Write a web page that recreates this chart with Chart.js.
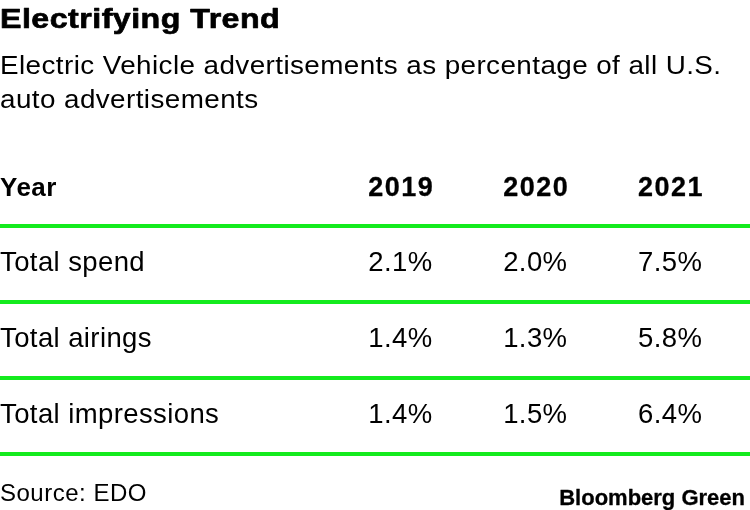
<!DOCTYPE html>
<html>
<head>
<meta charset="utf-8">
<script src="https://cdn.jsdelivr.net/npm/chart.js@4.4.1/dist/chart.umd.min.js"></script>
<style>
  html, body { margin: 0; padding: 0; background: #fff; }
  #wrap { width: 750px; height: 510px; }
</style>
</head>
<body>
<div id="wrap"><canvas id="tbl" width="750" height="510"></canvas></div>
<script>
'use strict';

// data
const title = 'Electrifying Trend';
const subtitle = ['Electric Vehicle advertisements as percentage of all U.S.', 'auto advertisements'];
const headerLabel = 'Year';
const years = [2019, 2020, 2021];
const metrics = ['Total spend', 'Total airings', 'Total impressions'];
const totalSpend = [2.1, 2.0, 7.5];
const totalAirings = [1.4, 1.3, 5.8];
const totalImpressions = [1.4, 1.5, 6.4];
const source = 'Source: EDO';
const brand = 'Bloomberg Green';

// style
const GREEN = '#14eb1e';
const INK = '#000';
const FONT = '"Liberation Sans", Arial, Helvetica, sans-serif';
const textStyles = {
  title:    { font: `bold 28px ${FONT}`, spacing: 0.4, sx: 1.15, stroke: 0.7 },
  subtitle: { font: `26.5px ${FONT}`, spacing: 0.4, sx: 1.05 },
  head:     { font: `bold 26px ${FONT}`, spacing: 0.5 },
  year:     { font: `bold 27px ${FONT}`, spacing: 1.5, stroke: 0.3 },
  cell:     { font: `27.5px ${FONT}`, spacing: 0.4 },
  source:   { font: `24px ${FONT}`, spacing: 0.5 },
  brand:    { font: `bold 22px ${FONT}`, spacing: 0, stroke: 0.3 },
};

// one point per table cell, placed by the scales
const rowValues = [totalSpend, totalAirings, totalImpressions];
const headerCells = years.map(yr => ({ x: yr, y: headerLabel, v: yr }));
const valueCells = [];
rowValues.forEach((vals, r) => vals.forEach((v, i) => valueCells.push({ x: years[i], y: metrics[r], v })));

function drawText(ctx, s, x, y, st, align) {
  ctx.save();
  ctx.font = st.font;
  ctx.fillStyle = INK;
  ctx.textBaseline = 'alphabetic';
  ctx.textAlign = align || 'left';
  if ('letterSpacing' in ctx) ctx.letterSpacing = (st.spacing || 0) + 'px';
  ctx.translate(x, y);
  ctx.scale(st.sx || 1, 1);
  ctx.fillText(s, 0, 0);
  if (st.stroke) { // a touch heavier, like the display weight
    ctx.strokeStyle = INK;
    ctx.lineWidth = st.stroke;
    ctx.lineJoin = 'round';
    ctx.strokeText(s, 0, 0);
  }
  ctx.restore();
}

const tablePlugin = {
  id: 'tablePlugin',
  afterDatasetsDraw(chart) {
    const { ctx, chartArea: a, scales: { y } } = chart;
    const band = y.getPixelForValue(1) - y.getPixelForValue(0);

    drawText(ctx, title, 0, 28, textStyles.title);
    drawText(ctx, subtitle[0], 0, 74, textStyles.subtitle);
    drawText(ctx, subtitle[1], 0, 108, textStyles.subtitle);

    // row labels + green rules under each row
    y.getLabels().forEach((lab, i) => {
      const py = y.getPixelForValue(i);
      drawText(ctx, lab, a.left, py + (i ? 7 : 8), i ? textStyles.cell : textStyles.head);
      ctx.save();
      ctx.strokeStyle = GREEN;
      ctx.lineWidth = 4;
      ctx.beginPath();
      ctx.moveTo(0, py + band / 2);
      ctx.lineTo(chart.width, py + band / 2);
      ctx.stroke();
      ctx.restore();
    });

    // cells
    chart.data.datasets.forEach((ds, d) => {
      chart.getDatasetMeta(d).data.forEach((pt, i) => {
        const raw = ds.data[i];
        const isHead = raw.y === headerLabel;
        const s = isHead ? String(raw.v) : raw.v.toFixed(1) + '%';
        drawText(ctx, s, pt.x, pt.y + (isHead ? 8 : 7), isHead ? textStyles.year : textStyles.cell);
      });
    });

    drawText(ctx, source, 0, 501, textStyles.source);
    drawText(ctx, brand, chart.width - 5, 505, textStyles.brand, 'right');
  }
};

new Chart(document.getElementById('tbl').getContext('2d'), {
  type: 'scatter',
  data: {
    datasets: [
      { label: 'header', data: headerCells, pointRadius: 0 },
      { label: 'values', data: valueCells, pointRadius: 0 },
    ]
  },
  options: {
    responsive: false,
    animation: false,
    events: [],
    layout: { padding: { top: 150, bottom: 56, left: 0, right: 0 } },
    plugins: { legend: { display: false }, tooltip: { enabled: false }, title: { display: false } },
    scales: {
      // column starts: min/max fitted so 2019..2021 land on the column left edges
      x: { type: 'linear', display: false, min: 2016.27, max: 2021.83 },
      y: { type: 'category', display: false, offset: true, labels: [headerLabel, ...metrics] }
    }
  },
  plugins: [tablePlugin]
});
</script>
</body>
</html>
